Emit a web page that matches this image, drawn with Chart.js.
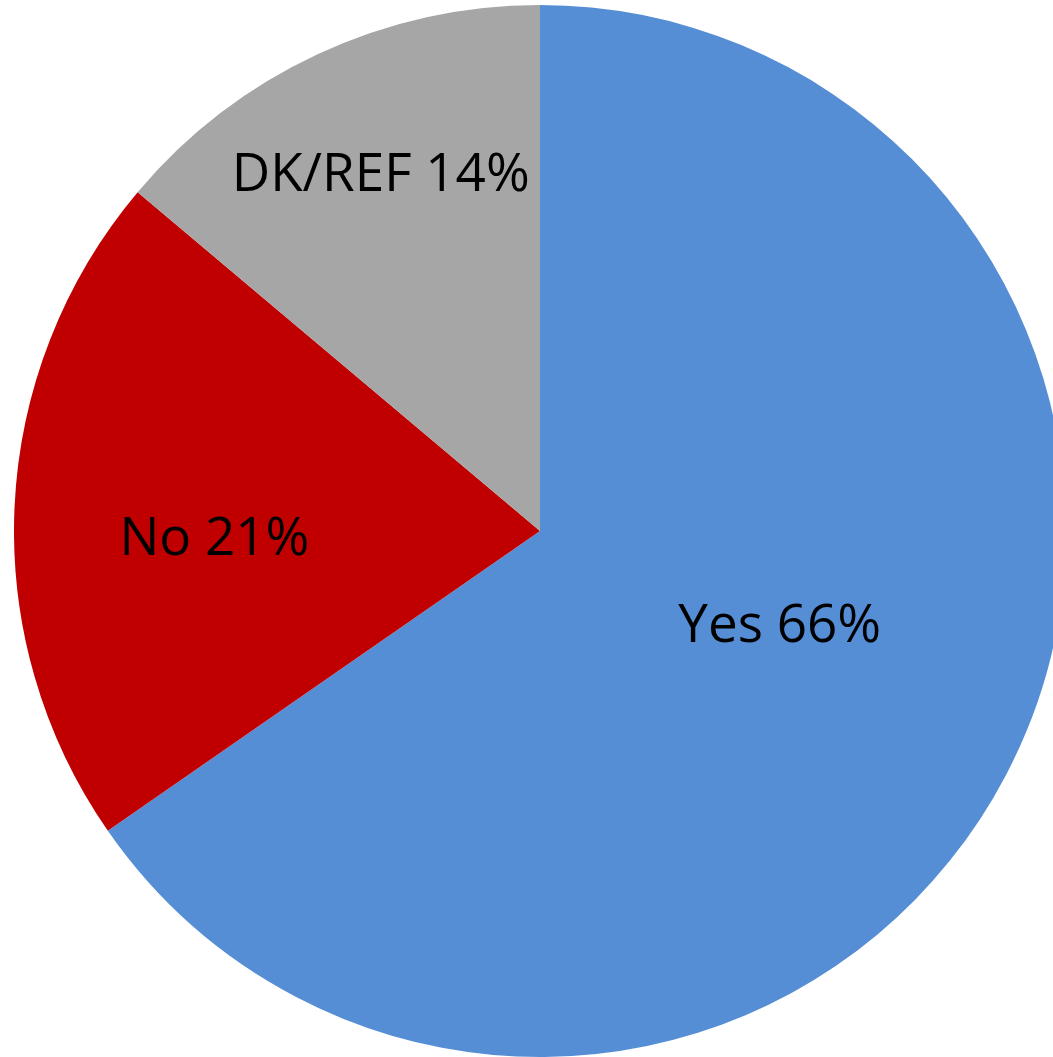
<!DOCTYPE html>
<html>
<head>
<meta charset="utf-8">
<script src="https://cdn.jsdelivr.net/npm/chart.js@4/dist/chart.umd.min.js"></script>
<style>
  html, body { margin: 0; padding: 0; background: #fff; overflow: hidden; width: 1053px; height: 1057px; }
  #wrap { position: absolute; left: 14px; top: 5px; width: 1052px; height: 1052px; }
</style>
</head>
<body>
<div id="wrap"><canvas id="pieChart" width="1052" height="1052"></canvas></div>
<script>
// answers and their shares (percent)
const answers = ['Yes', 'No', 'DK/REF'];
const shares = [66, 21, 14];
const sliceColors = ['#558ED5', '#C00000', '#A6A6A6'];

// where each label sits inside its slice: fraction of radius, turn from the slice middle (deg)
const labelSpots = [
    { r: 0.488, turn: -6.7 },
    { r: 0.619, turn: -3.6 },
    { r: 0.746, turn: 1.0 }
];

const labelFont = 53;

const sliceLabels = {
    id: 'sliceLabels',
    afterDatasetsDraw(chart) {
        const ctx = chart.ctx;
        const arcs = chart.getDatasetMeta(0).data;
        ctx.save();
        ctx.font = labelFont + 'px "Open Sans", sans-serif';
        ctx.fillStyle = '#000';
        ctx.textAlign = 'center';
        ctx.textBaseline = 'alphabetic';
        arcs.forEach((arc, i) => {
            let p = arc.getProps(['x', 'y', 'startAngle', 'endAngle', 'outerRadius'], true);
            let mid = (p.startAngle + p.endAngle) / 2 + labelSpots[i].turn * Math.PI / 180;
            let dist = p.outerRadius * labelSpots[i].r;
            let lx = p.x + Math.cos(mid) * dist;
            let ly = p.y + Math.sin(mid) * dist;
            ctx.fillText(answers[i] + ' ' + shares[i] + '%', lx, ly + labelFont * 0.357);
        });
        ctx.restore();
    }
};

const ctx = document.getElementById('pieChart').getContext('2d');
const pieChart = new Chart(ctx, {
    type: 'pie',
    data: {
        labels: answers,
        datasets: [{
            data: shares,
            backgroundColor: sliceColors,
            borderWidth: 0
        }]
    },
    options: {
        responsive: false,
        animation: false,
        layout: { padding: 0 },
        plugins: {
            legend: { display: false },
            tooltip: { enabled: false }
        }
    },
    plugins: [sliceLabels]
});
</script>
</body>
</html>
